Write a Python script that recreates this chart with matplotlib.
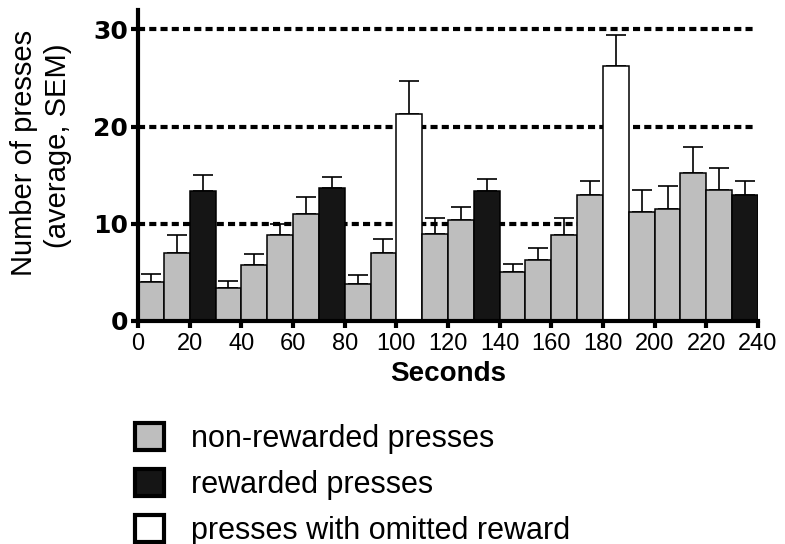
import numpy as np
import matplotlib.pyplot as plt
from matplotlib.patches import Patch

# 10 s bins, mean presses and upper SEM bound per bin
bin_start = [0, 10, 20, 30, 40, 50, 60, 70, 80, 90, 100, 110,
             120, 130, 140, 150, 160, 170, 180, 190, 200, 210, 220, 230]
mean_presses = [4.0, 7.0, 13.4, 3.4, 5.8, 8.8, 11.0, 13.7, 3.8, 7.0, 21.3, 8.9,
                10.4, 13.4, 5.0, 6.3, 8.8, 13.0, 26.2, 11.2, 11.5, 15.2, 13.5, 13.0]
sem_top = [4.85, 8.8, 15.0, 4.15, 6.85, 10.0, 12.8, 14.8, 4.7, 8.4, 24.7, 10.55,
           11.7, 14.6, 5.9, 7.5, 10.6, 14.4, 29.4, 13.5, 13.9, 17.9, 15.7, 14.4]
# press type per bin: n = non-rewarded, r = rewarded, o = omitted reward
press_type = ['n', 'n', 'r', 'n', 'n', 'n', 'n', 'r', 'n', 'n', 'o', 'n',
              'n', 'r', 'n', 'n', 'n', 'n', 'o', 'n', 'n', 'n', 'n', 'r']
type_labels = ['non-rewarded presses', 'rewarded presses', 'presses with omitted reward']
x_ticks = list(range(0, 241, 20))
y_ticks = [0, 10, 20, 30]

colours = {'n': '#bebebe', 'r': '#151515', 'o': '#ffffff'}

fig = plt.figure(figsize=(7.85, 5.44), dpi=100)
ax = fig.add_axes([0.1758, 0.410, 0.7898, 0.5716])

x = np.array(bin_start)
h = np.array(mean_presses)
err = np.array(sem_top) - h

ax.hlines(y_ticks[1:], 0, 238, colors='black', linewidth=3,
          linestyles=(0, (1.7, 1.0)), zorder=0)
# upper SEM only; the lower cap sits hidden under the bar top
ax.errorbar(x + 5, h, yerr=[np.zeros_like(err), err], fmt='none',
            ecolor='black', elinewidth=1.2, capsize=7, capthick=1.2, zorder=1)
ax.bar(x, h, width=10, align='edge', color=[colours[t] for t in press_type],
       edgecolor='black', linewidth=1.1, zorder=2)

ax.set_xlim(0, 240)
ax.set_ylim(0, 32)
ax.set_xticks(x_ticks)
ax.set_yticks(y_ticks)
ax.set_xticklabels([str(v) for v in x_ticks], family='Liberation Sans', fontsize=17)
ax.set_yticklabels([str(v) for v in y_ticks],
                   family='DejaVu Sans', fontweight='bold', fontsize=18)
ax.tick_params(axis='both', length=5, width=3, color='black')
ax.tick_params(axis='x', pad=4)
ax.tick_params(axis='y', pad=2)

for side in ['top', 'right']:
    ax.spines[side].set_visible(False)
for side in ['left', 'bottom']:
    ax.spines[side].set_linewidth(3)
ax.spines['bottom'].set_capstyle('projecting')

ax.set_xlabel('Seconds', family='Liberation Sans', fontweight='bold',
              fontsize=20, labelpad=4)
fig.text(0.031, 0.718, 'Number of presses', rotation=90, ha='center', va='center',
         family='Liberation Sans', fontsize=21)
fig.text(0.074, 0.732, '(average, SEM)', rotation=90, ha='center', va='center',
         family='Liberation Sans', fontsize=21)

handles = [Patch(facecolor=colours[t], edgecolor='black', linewidth=3)
           for t in ['n', 'r', 'o']]
fig.legend(handles, type_labels, loc='upper left', bbox_to_anchor=(0.172, 0.222),
           frameon=False, prop={'family': 'Liberation Sans', 'size': 22},
           handlelength=0.95, handleheight=0.95, handletextpad=0.88,
           labelspacing=0.5, borderaxespad=0, borderpad=0)

fig.savefig('out.png', dpi=100)
